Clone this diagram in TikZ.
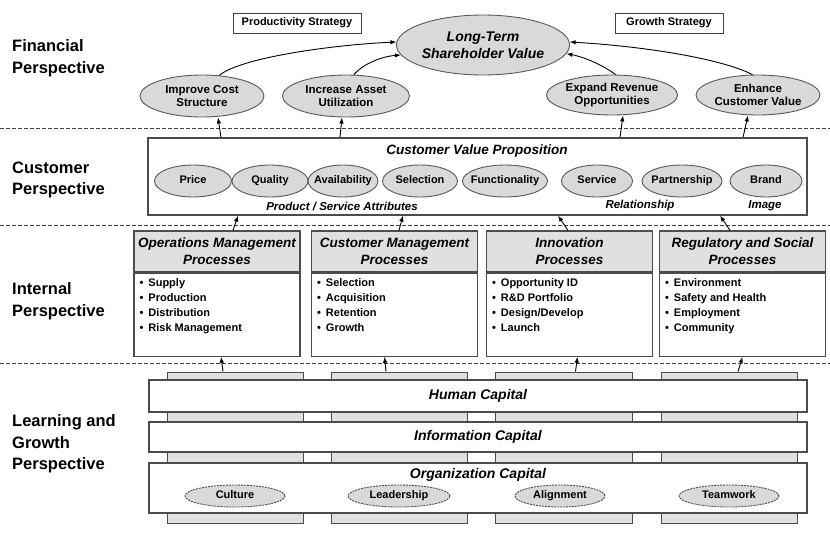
\documentclass[tikz,border=0pt]{standalone}
\usepackage{fontspec}
\setmainfont{Liberation Sans}
\usepackage{tikz}
\usetikzlibrary{positioning,calc,shapes.geometric,arrows.meta}

\newcommand{\pitem}{\textbullet\hspace{5pt}}

\tikzset{
  persp/.style={anchor=west, align=left, inner sep=0pt, font=\fontsize{16.5}{21.5}\selectfont\bfseries},
  strat/.style={draw=black!75, line width=1pt, fill=white, inner sep=0pt, font=\fontsize{11}{13}\selectfont\bfseries},
  goal/.style={ellipse, draw=black!65, line width=0.9pt, fill=black!15, inner sep=0pt, align=center,
    minimum width=124pt, minimum height=42pt, font=\fontsize{11.5}{13}\selectfont\bfseries},
  attr/.style={ellipse, draw=black!65, line width=0.9pt, fill=black!15, inner xsep=-12pt, inner ysep=0pt,
    text height=8pt, text depth=2.5pt, minimum height=32pt, font=\fontsize{11}{13}\selectfont\bfseries},
  boxframe/.style={draw=black!70, line width=1.2pt, fill=white, inner sep=0pt},
  ital/.style={inner sep=0pt, font=\fontsize{11.5}{13}\selectfont\bfseries\itshape},
  captext/.style={inner sep=0pt, font=\fontsize{14}{16}\selectfont\bfseries\itshape},
  phead/.style={boxframe, fill=black!12, minimum width=166pt, minimum height=41pt, align=center,
    font=\fontsize{13.5}{17}\selectfont\bfseries\itshape},
  pbody/.style={boxframe, minimum width=166pt, minimum height=83pt},
  plist/.style={anchor=north west, inner sep=0pt, align=left, font=\fontsize{11}{15}\selectfont\bfseries},
  pillar/.style={draw=black!70, line width=1pt, fill=black!12, minimum width=136pt, minimum height=151pt},
  capbar/.style={boxframe, minimum width=658pt, text height=10pt, text depth=3pt,
    font=\fontsize{14}{16}\selectfont\bfseries\itshape},
  capel/.style={ellipse, draw=black!70, dash pattern=on 2pt off 1pt, line width=0.9pt, fill=black!15,
    inner xsep=-10pt, inner ysep=0pt, text height=8pt, text depth=2.5pt, minimum height=22pt,
    font=\fontsize{11}{13}\selectfont\bfseries},
  divline/.style={draw=black!75, line width=1pt, dash pattern=on 4pt off 2pt},
  arr/.style={-{Latex[length=6pt,width=4.5pt]}, line width=0.9pt}
}

\begin{document}
\begin{tikzpicture}[x=1pt, y=-1pt]
\useasboundingbox (0,0) rectangle (830,539);

\node[persp] (fin) at (12,58) {Financial\\Perspective};
\node[persp] (cust) at (12,180) {Customer\\Perspective};
\node[persp] (intp) at (12,301) {Internal\\Perspective};
\node[persp] (lrn) at (12,444) {Learning and\\Growth\\Perspective};

\draw[divline] (0,128) -- (830,128);
\draw[divline] (0,225) -- (830,225);
\draw[divline] (0,363) -- (830,363);

% financial
\node[strat, minimum width=128pt, minimum height=20pt] (prod) at (297,23) {Productivity Strategy};
\node[strat, minimum width=108pt, minimum height=20pt] (grow) at (669,23) {Growth Strategy};
\node[goal, minimum width=168pt, minimum height=60pt, font=\fontsize{14}{17}\selectfont\bfseries\itshape] (ltsv) at (483,45) {Long-Term\\Shareholder Value};
\node[goal] (cost) at (202,96) {Improve Cost\\Structure};
\node[goal, minimum width=127pt] (asset) at (346,96) {Increase Asset\\Utilization};
\node[goal, minimum width=121pt, minimum height=40pt] (rev) at (612,95) {Expand Revenue\\Opportunities};
\node[goal, minimum height=40pt] (cval) at (758,95) {Enhance\\Customer Value};

\draw[arr] (cost.50) .. controls (240,58) and (330,45) .. (ltsv.178);
\draw[arr] (asset.70) .. controls (365,62) and (385,56) .. (ltsv.187);
\draw[arr] (rev.80) .. controls (600,63) and (580,56) .. (ltsv.354);
\draw[arr] (cval.105) .. controls (720,58) and (640,46) .. (ltsv.2);

% customer
\node[boxframe, minimum width=659pt, minimum height=77pt] (cvp) at (477.5,176.5) {};
\node[ital, font=\fontsize{13.5}{16}\selectfont\bfseries\itshape] (cvpt) at (477,151) {Customer Value Proposition};
\node[attr, minimum width=77pt] (price) at (193,181) {Price};
\node[attr, minimum width=76pt] (qual) at (270,181) {Quality};
\node[attr, minimum width=70pt] (avail) at (343,181) {Availability};
\node[attr, minimum width=75pt] (sel) at (420,181) {Selection};
\node[attr, minimum width=85pt] (func) at (505,181) {Functionality};
\node[attr, minimum width=71pt] (serv) at (597,181) {Service};
\node[attr, minimum width=80pt] (part) at (682,181) {Partnership};
\node[attr, minimum width=72pt] (brand) at (766,181) {Brand};
\node[ital] (psa) at (342,206) {Product / Service Attributes};
\node[ital] (rel) at (640,206) {Relationship};
\node[ital] (img) at (765,206) {Image};

\draw[arr] ($(cost.south |- cvp.north)+(19pt,0)$) -- ([xshift=16pt]cost.south);
\draw[arr] ($(asset.south |- cvp.north)+(-6pt,0)$) -- ([xshift=-4pt]asset.south);
\draw[arr] ($(rev.south |- cvp.north)+(8pt,0)$) -- ([xshift=11pt]rev.south);
\draw[arr] ($(cval.south |- cvp.north)+(-15pt,0)$) -- ([xshift=-10pt]cval.south);

% internal
\node[phead] (opsh) at (217,251.5) {Operations Management\\Processes};
\node[pbody, below=0pt of opsh] (ops) {};
\node[plist] (opsl) at ([shift={(6pt,-6pt)}]ops.north west) {\pitem Supply\\\pitem Production\\\pitem Distribution\\\pitem Risk Management};

\node[phead] (cush) at (394.5,251.5) {Customer Management\\Processes};
\node[pbody, below=0pt of cush] (cus) {};
\node[plist] (cusl) at ([shift={(6pt,-6pt)}]cus.north west) {\pitem Selection\\\pitem Acquisition\\\pitem Retention\\\pitem Growth};

\node[phead] (innh) at (569.5,251.5) {Innovation\\Processes};
\node[pbody, below=0pt of innh] (inn) {};
\node[plist] (innl) at ([shift={(6pt,-6pt)}]inn.north west) {\pitem Opportunity ID\\\pitem R\&D Portfolio\\\pitem Design/Develop\\\pitem Launch};

\node[phead] (regh) at (742.5,251.5) {Regulatory and Social\\Processes};
\node[pbody, below=0pt of regh] (reg) {};
\node[plist] (regl) at ([shift={(6pt,-6pt)}]reg.north west) {\pitem Environment\\\pitem Safety and Health\\\pitem Employment\\\pitem Community};

\draw[arr] ([xshift=16pt]opsh.north) -- ($(opsh.north |- cvp.south)+(21pt,0)$);
\draw[arr] ([xshift=4.5pt]cush.north) -- ($(cush.north |- cvp.south)+(8.5pt,0)$);
\draw[arr] ([xshift=-1.5pt]innh.north) -- ($(innh.north |- cvp.south)+(-11.5pt,0)$);
\draw[arr] ([xshift=-12.5pt]regh.north) -- ($(regh.north |- cvp.south)+(-22.5pt,0)$);

% learning and growth
\node[pillar] (p1) at (235,447.5) {};
\node[pillar] (p2) at (399,447.5) {};
\node[pillar, minimum width=137pt] (p3) at (563.5,447.5) {};
\node[pillar] (p4) at (729,447.5) {};

\node[capbar, minimum height=32pt] (hum) at (478,396) {Human Capital};
\node[capbar, minimum height=30pt] (info) at (478,437) {Information Capital};
\node[capbar, minimum height=50pt] (org) at (478,488) {};
\node[captext] (orgt) at (478,475) {Organization Capital};
\node[capel, minimum width=100pt] (cult) at (235,496) {Culture};
\node[capel, minimum width=102pt] (lead) at (399,496) {Leadership};
\node[capel, minimum width=90pt] (align) at (560,496) {Alignment};
\node[capel, minimum width=100pt] (team) at (729,496) {Teamwork};

\draw[arr] ([xshift=-12pt]p1.north) -- ([xshift=4pt]ops.south);
\draw[arr] ([xshift=-13pt]p2.north) -- ([xshift=-10pt]cus.south);
\draw[arr] ([xshift=12pt]p3.north) -- ([xshift=8pt]inn.south);
\draw[arr] ([xshift=9pt]p4.north) -- (reg.south);
\end{tikzpicture}
\end{document}
